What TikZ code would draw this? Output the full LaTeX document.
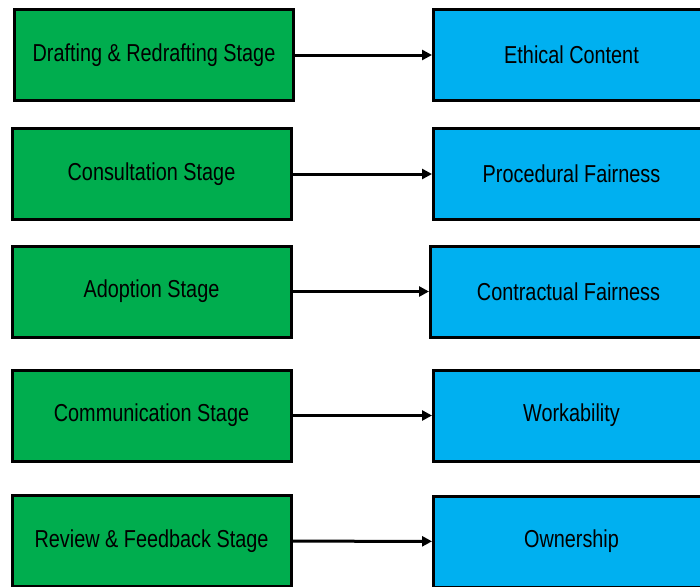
\documentclass[tikz,border=0pt]{standalone}
\usepackage{fontspec}
\setmainfont{Liberation Sans}[FakeStretch=0.81]
\usepackage{tikz}
\usetikzlibrary{arrows.meta}
\definecolor{stagegreen}{RGB}{0,173,78}
\definecolor{valueblue}{RGB}{0,176,240}

\begin{document}
\begin{tikzpicture}[x=1pt, y=-1pt,
	stagebox/.style={draw, line width=3pt, fill=stagegreen, minimum width=279pt, minimum height=91pt, inner sep=0pt, font=\fontsize{24.5}{28}\selectfont},
	valuebox/.style={draw, line width=3pt, fill=valueblue, minimum width=276pt, minimum height=91pt, inner sep=0pt, font=\fontsize{24.5}{28}\selectfont},
	link/.style={line width=3pt, -{Triangle[length=10pt,width=10pt]}}]
		\useasboundingbox (0,0) rectangle (700,586);

		\path (154,55) node[stagebox] (s1) {Drafting \& Redrafting Stage}
		(151.5,174) node[stagebox] (s2) {Consultation Stage}
		(151.5,291.5) node[stagebox] (s3) {Adoption Stage}
		(151.5,415.5) node[stagebox] (s4) {Communication Stage}
		(151.5,541) node[stagebox] (s5) {Review \& Feedback Stage};

		\path (571.5,55) node[valuebox] (v1) {Ethical Content}
		(571.5,174) node[valuebox] (v2) {Procedural Fairness}
		(568.5,291.5) node[valuebox] (v3) {Contractual Fairness}
		(571.5,415.5) node[valuebox] (v4) {Workability}
		(571.5,541.5) node[valuebox] (v5) {Ownership};

		\draw[link] (s1) -- (v1);
		\draw[link] (s2) -- (v2);
		\draw[link] (s3) -- (v3);
		\draw[link] (s4) -- (v4);
		\draw[link] (s5) -- (v5);

	\end{tikzpicture}
\end{document}
